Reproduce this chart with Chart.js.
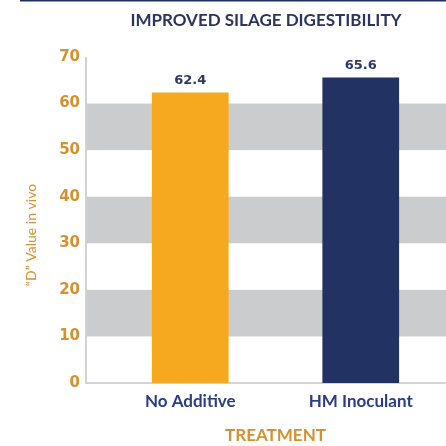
<!DOCTYPE html>
<html>
<head>
<meta charset="utf-8">
<script src="https://cdn.jsdelivr.net/npm/chart.js@4"></script>
<style>
html, body { margin: 0; padding: 0; background: #fff; }
#wrap { width: 446px; height: 446px; }
</style>
</head>
<body>
<div id="wrap"><canvas id="silageChart"></canvas></div>
<script>
// Improved silage digestibility - "D" value in vivo, two treatments

const categories = ['No Additive', 'HM Inoculant'];
const dValues = [62.4, 65.6];
const barColors = ['#F6A81E', '#223263'];
// shaded horizontal bands behind the bars (value ranges)
const bandRanges = [[10, 20], [30, 40], [50, 60]];
const yMin = 0, yMax = 70, yStep = 10;

const ORANGE = '#D4912F';
const NAVY = '#2B3560';
const AXIS_GAP = 19; // y axis line sits a little left of the first category

const decorPlugin = {
    id: 'silageDecor',
    beforeDatasetsDraw(chart) {
        const { ctx, chartArea: a, scales: { y } } = chart;
        const axisX = a.left - AXIS_GAP;
        ctx.save();
        // gray bands
        ctx.fillStyle = '#CBCCCE';
        for (const [lo, hi] of bandRanges) {
            const top = y.getPixelForValue(hi);
            const bot = y.getPixelForValue(lo);
            ctx.fillRect(axisX + 1, top, a.right - axisX - 1, bot - top);
        }
        // axis lines
        ctx.strokeStyle = '#D2D3D5';
        ctx.lineWidth = 2;
        ctx.beginPath();
        ctx.moveTo(axisX, a.top);
        ctx.lineTo(axisX, a.bottom);
        ctx.lineTo(a.right, a.bottom);
        ctx.stroke();
        ctx.restore();
    },
    afterDatasetsDraw(chart) {
        const { ctx } = chart;
        const meta = chart.getDatasetMeta(0);
        ctx.save();
        ctx.font = 'bold 13px "DejaVu Sans", sans-serif';
        ctx.fillStyle = '#2E3A66';
        ctx.textAlign = 'center';
        ctx.textBaseline = 'alphabetic';
        meta.data.forEach((bar, i) => {
            ctx.fillText(dValues[i].toFixed(1), bar.x, bar.y - 8);
        });
        ctx.restore();
    },
    afterDraw(chart) {
        const { ctx, chartArea: a, width } = chart;
        const axisX = a.left - AXIS_GAP;
        ctx.save();
        // thin navy rule across the top
        ctx.fillStyle = '#1F2F5E';
        ctx.fillRect(20, 0, width - 20, 1.5);
        // chart title, centred over the plot
        ctx.font = 'bold 17px Lato, sans-serif';
        ctx.fillStyle = NAVY;
        ctx.textAlign = 'center';
        ctx.textBaseline = 'middle';
        ctx.fillText('IMPROVED SILAGE DIGESTIBILITY', (axisX + a.right) / 2, 21);
        // y axis title
        ctx.translate(31, 235);
        ctx.rotate(-Math.PI / 2);
        ctx.font = '14px Lato, sans-serif';
        ctx.fillStyle = ORANGE;
        ctx.fillText('\u201CD\u201D Value in vivo', 0, 0);
        ctx.restore();
    }
};

new Chart(document.getElementById('silageChart'), {
    type: 'bar',
    data: {
        labels: categories,
        datasets: [{
            label: '"D" Value in vivo',
            data: dValues,
            backgroundColor: barColors,
            borderWidth: 0,
            barPercentage: 0.45,
            categoryPercentage: 1
        }]
    },
    options: {
        responsive: true,
        maintainAspectRatio: false,
        animation: false,
        layout: { padding: { top: 57, right: 0, bottom: 0, left: 0 } },
        plugins: {
            legend: { display: false },
            title: { display: false }
        },
        scales: {
            x: {
                grid: { display: false, drawTicks: false },
                border: { display: false },
                ticks: {
                    color: '#2B3C88',
                    font: { family: 'Lato, sans-serif', size: 17, weight: 'bold' },
                    padding: 8
                },
                title: {
                    display: true,
                    text: 'TREATMENT',
                    color: ORANGE,
                    font: { family: 'Lato, sans-serif', size: 17, weight: 'bold' },
                    padding: { top: 0, bottom: 0 }
                },
                afterFit: s => { s.height = 63; }
            },
            y: {
                min: yMin,
                max: yMax,
                grid: { display: false, drawTicks: false },
                border: { display: false },
                ticks: {
                    stepSize: yStep,
                    color: ORANGE,
                    font: { family: '"DejaVu Sans", sans-serif', size: 15, weight: 'bold' },
                    padding: 25
                },
                afterFit: s => { s.width = 105; }
            }
        }
    },
    plugins: [decorPlugin]
});
</script>
</body>
</html>
